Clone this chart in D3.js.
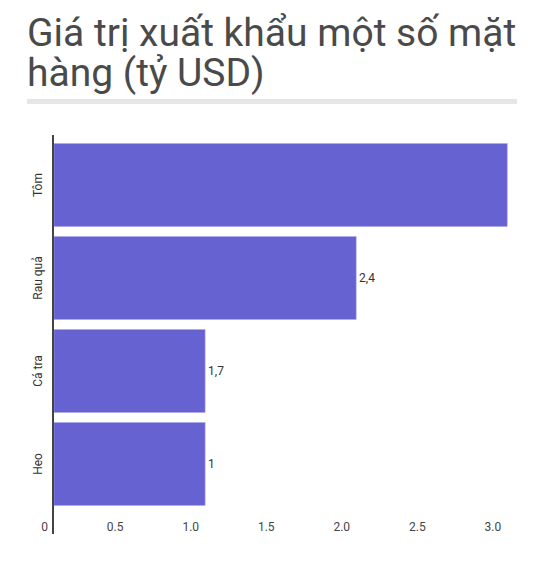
<!DOCTYPE html>
<html>
<head>
<meta charset="utf-8">
<script src="https://cdn.jsdelivr.net/npm/d3@7"></script>
<style>
  body { margin: 0; background: #fff; font-family: Roboto, sans-serif; }
</style>
</head>
<body>
<div id="chart"></div>
<script>
// Data
const titleLines = ["Giá trị xuất khẩu một số mặt", "hàng (tỷ USD)"];
const categories = ["Tôm", "Rau quả", "Cá tra", "Heo"];
const values = [3.0, 2.0, 1.0, 1.0];
const valueLabels = ["", "2,4", "1,7", "1"];
const ticks = [0, 0.5, 1.0, 1.5, 2.0, 2.5, 3.0];

const width = 547, height = 570;
const svg = d3.select('#chart').append('svg')
  .attr('width', width)
  .attr('height', height);

// Title (one text block, two lines)
svg.append('text')
  .attr('font-size', 39)
  .attr('fill', '#4a4a4a')
  .selectAll('tspan')
  .data(titleLines)
  .join('tspan')
  .attr('x', 27)
  .attr('y', (d, i) => 46 + i * 40)
  .text(d => d);

svg.append('rect')
  .attr('x', 27).attr('y', 99)
  .attr('width', 490).attr('height', 5)
  .attr('fill', '#e6e6e6');

// Scales
const x = d3.scaleLinear().domain([0, 3.065]).range([54, 517]);
const y = d3.scaleBand().domain(categories).range([139, 510]).paddingInner(0.11).paddingOuter(0.05);

// Bars
svg.append('g').selectAll('rect')
  .data(categories)
  .join('rect')
  .attr('x', x(0))
  .attr('y', d => y(d))
  .attr('width', (d, i) => x(values[i]) - x(0))
  .attr('height', y.bandwidth())
  .attr('fill', '#6762d2')
  .attr('stroke', '#9f9ce6')
  .attr('stroke-width', 0.6);

// Value labels
svg.append('g').selectAll('text')
  .data(categories)
  .join('text')
  .attr('x', (d, i) => x(values[i]) + 3)
  .attr('y', d => y(d) + y.bandwidth() / 2)
  .attr('dy', '0.35em')
  .attr('font-size', 12)
  .attr('fill', '#333')
  .text((d, i) => valueLabels[i]);

// Category labels
svg.append('g').selectAll('text')
  .data(categories)
  .join('text')
  .attr('transform', d => `translate(42,${y(d) + y.bandwidth() / 2}) rotate(-90)`)
  .attr('text-anchor', 'middle')
  .attr('font-size', 12)
  .attr('fill', '#333')
  .text(d => d);

// Axis line
svg.append('line')
  .attr('x1', 53).attr('x2', 53)
  .attr('y1', 135).attr('y2', 534)
  .attr('stroke', '#444')
  .attr('stroke-width', 2);

// Tick labels
svg.append('g').selectAll('text')
  .data(ticks)
  .join('text')
  .attr('x', d => x(d) - 6)
  .attr('y', 531)
  .attr('text-anchor', 'end')
  .attr('font-size', 12)
  .attr('fill', '#444')
  .text(d => d === 0 ? '0' : d.toFixed(1));
</script>
</body>
</html>
